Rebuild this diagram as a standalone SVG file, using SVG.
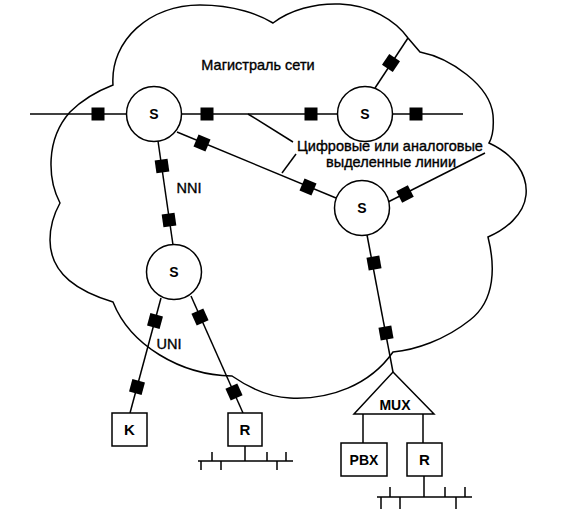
<svg xmlns="http://www.w3.org/2000/svg" width="582" height="509" viewBox="0 0 582 509">
<style>
.ln{stroke:#000;stroke-width:1.5;fill:none}
.nd{stroke:#000;stroke-width:1.5;fill:#fff}
.t{font-family:"Liberation Sans",Arial,sans-serif;font-size:14.5px;fill:#000;stroke:#000;stroke-width:0.35;text-anchor:middle}
.b{font-family:"Liberation Sans",Arial,sans-serif;font-weight:bold;fill:#000;text-anchor:middle}
</style>
<defs>
<rect id="sq" x="-6.5" y="-6.5" width="13" height="13" fill="#000"/>
</defs>
<g id="cloud">
<path class="ln" d="M113,85 C110,40 150,5 200,5 C235,5 260,15 273,23 C290,10 315,3 340,4 C370,5 395,20 408,38 L420,52 C450,58 490,85 493,115 C494,128 492,138 489,143 C515,155 528,175 526,195 C524,215 505,230 488,237 C495,265 496,300 470,320 C445,340 415,350 393,352 C370,385 330,400 290,398 C265,397 245,385 232,376 C180,375 130,345 113,302 C80,292 50,275 50,240 C50,225 55,212 60,203 C48,180 45,140 70,112 C85,97 100,90 113,85 Z"/>
</g>
<g id="connectors">
<line class="ln" x1="30" y1="114" x2="127" y2="114"/>
<line class="ln" x1="181" y1="114" x2="338" y2="114"/>
<line class="ln" x1="392" y1="114" x2="463" y2="114"/>
<line class="ln" x1="248" y1="114" x2="293" y2="142"/>
<line class="ln" x1="296" y1="154" x2="282" y2="173"/>
<line class="ln" x1="177" y1="132" x2="336" y2="198"/>
<line class="ln" x1="375" y1="88" x2="408" y2="38"/>
<line class="ln" x1="388" y1="202" x2="485" y2="153"/>
<line class="ln" x1="158" y1="141" x2="173" y2="245"/>
<line class="ln" x1="161" y1="298" x2="130" y2="413"/>
<line class="ln" x1="191" y1="296" x2="243" y2="413"/>
<line class="ln" x1="367" y1="235" x2="393" y2="372"/>
<line class="ln" x1="363" y1="414" x2="363" y2="443"/>
<line class="ln" x1="423" y1="414" x2="423" y2="443"/>
<path class="ln" d="M245,446 V461 M198,461 H293 M212,452 V461 M267,452 V461 M286,452 V461 M201,461 V470 M221,461 V470 M277,461 V470"/>
<path class="ln" d="M424,476 V497 M377,497 H472 M390,487 V497 M445,487 V497 M465,487 V497 M381,497 V509 M400,497 V509 M456,497 V509"/>
<use href="#sq" x="98" y="114"/>
<use href="#sq" x="207" y="114"/>
<use href="#sq" x="311" y="114"/>
<use href="#sq" x="416" y="114"/>
<use href="#sq" transform="translate(202,143) rotate(23)"/>
<use href="#sq" transform="translate(308,187) rotate(23)"/>
<use href="#sq" transform="translate(391,63) rotate(-56)"/>
<use href="#sq" transform="translate(405,194) rotate(-27)"/>
<use href="#sq" transform="translate(162,166) rotate(-8)"/>
<use href="#sq" transform="translate(169,220) rotate(-8)"/>
<use href="#sq" transform="translate(155,321) rotate(15)"/>
<use href="#sq" transform="translate(137,387) rotate(15)"/>
<use href="#sq" transform="translate(200,317) rotate(-24)"/>
<use href="#sq" transform="translate(234,392) rotate(-24)"/>
<use href="#sq" transform="translate(374,263) rotate(-10)"/>
<use href="#sq" transform="translate(386,333) rotate(-10)"/>
</g>
<g id="S1"><circle class="nd" cx="154" cy="114" r="27.5"/><text class="b" x="154" y="119" font-size="14">S</text></g>
<g id="S2"><circle class="nd" cx="365" cy="114" r="27.5"/><text class="b" x="365" y="119" font-size="14">S</text></g>
<g id="S3"><circle class="nd" cx="362" cy="208" r="27.5"/><text class="b" x="362" y="213" font-size="14">S</text></g>
<g id="S4"><circle class="nd" cx="174" cy="272" r="27.5"/><text class="b" x="174" y="277" font-size="14">S</text></g>
<g id="K"><rect class="nd" x="112" y="413" width="35" height="33"/><text class="b" x="129.5" y="435" font-size="15">K</text></g>
<g id="R1"><rect class="nd" x="228" y="413" width="34" height="33"/><text class="b" x="245" y="435" font-size="15">R</text></g>
<g id="MUX"><polygon class="nd" points="393,372 434,414 354,414"/><text class="b" x="395" y="410" font-size="14">MUX</text></g>
<g id="PBX"><rect class="nd" x="341" y="443" width="46" height="33"/><text class="b" x="364" y="465" font-size="14">PBX</text></g>
<g id="R2"><rect class="nd" x="407" y="443" width="35" height="33"/><text class="b" x="424.5" y="465" font-size="15">R</text></g>
<g id="labels">
<text class="t" x="258" y="70">Магистраль сети</text>
<text class="t" x="390" y="151">Цифровые или аналоговые</text>
<text class="t" x="391" y="167">выделенные линии</text>
<text class="t" x="189" y="193">NNI</text>
<text class="t" x="169" y="349">UNI</text>
</g>
</svg>
